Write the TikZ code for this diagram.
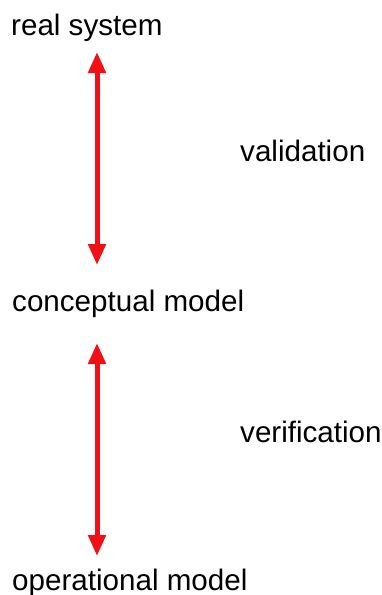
\documentclass[tikz,border=0pt]{standalone}
\usepackage{fontspec}
\setmainfont{Liberation Sans}
\usetikzlibrary{arrows.meta}
\begin{document}
\begin{tikzpicture}[x=1pt,y=-1pt,
  lbl/.style={anchor=base west,inner sep=0pt,font=\fontsize{29.6}{35}\selectfont,text=black},
  dbl/.style={draw={rgb,255:red,240;green,16;blue,22},line width=5pt,
    {Triangle[width=17pt,length=21pt]}-{Triangle[width=17pt,length=21pt]}}]
\useasboundingbox (0,0) rectangle (382,595);
\node[lbl] (rs) at (11,35) {real system};
\node[lbl] (cm) at (12,311) {conceptual model};
\node[lbl] (om) at (12,590) {operational model};
\node[lbl] (va) at (240,161) {validation};
\node[lbl] (ve) at (240,442) {verification};
\coordinate (a1) at (97,52);
\coordinate (a2) at (97,265);
\coordinate (b1) at (97,343);
\coordinate (b2) at (97,556);
\draw[dbl] (a1) -- (a2);
\draw[dbl] (b1) -- (b2);
\end{tikzpicture}
\end{document}
